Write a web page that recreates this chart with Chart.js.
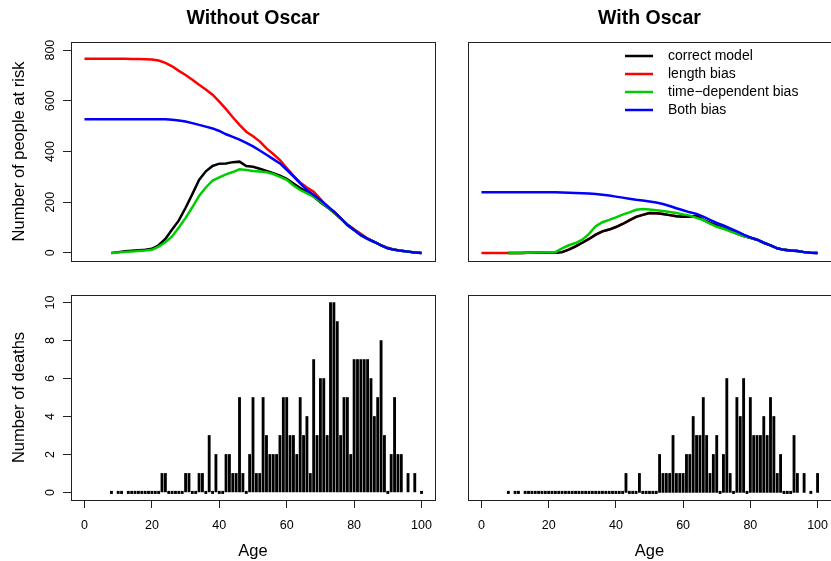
<!DOCTYPE html>
<html>
<head>
<meta charset="utf-8">
<title>People at risk and deaths by age</title>
<script src="https://cdn.jsdelivr.net/npm/chart.js@4.4.1/dist/chart.umd.min.js"></script>
<style>
  html, body { margin: 0; padding: 0; background: #fff; }
  #wrap { position: relative; width: 831px; height: 561px; overflow: hidden; }
  #wrap canvas { position: absolute; left: 0; top: 0; }
</style>
</head>
<body>
<div id="wrap">
  <canvas id="riskWithout" width="831" height="561"></canvas>
  <canvas id="riskWith" width="831" height="561"></canvas>
  <canvas id="deathsWithoutChart" width="831" height="561"></canvas>
  <canvas id="deathsWithChart" width="831" height="561"></canvas>
</div>
<script>
// ages used for the number-at-risk curves
const riskAges = [0, 2, 4, 6, 8, 10, 12, 14, 16, 18, 20, 22, 24, 26, 28, 30, 32, 34, 36, 38, 40,
  42, 44, 46, 48, 50, 52, 54, 56, 58, 60, 62, 64, 66, 68, 70, 72, 74, 76, 78, 80,
  82, 84, 86, 88, 90, 92, 94, 96, 98, 100];

// Without Oscar
const correctWithout = [null, null, null, null, 0, 3, 6, 8, 10, 12, 16, 30, 55, 92, 128, 178, 232, 288, 322, 343, 352,
  353, 358, 360, 343, 340, 332, 323, 314, 305, 292, 274, 256, 240, 222, 200, 180, 163, 137, 110, 90,
  70, 55, 43, 30, 18, 12, 8, 5, 2, 0];
const lengthWithout = [766, 766, 766, 766, 766, 766, 766, 765, 765, 764, 763, 759, 750, 736, 718, 702, 683, 663, 645, 624, 597,
  567, 535, 505, 478, 460, 440, 412, 390, 366, 335, 305, 278, 258, 241, 212, 182, 158, 136, 113, 93,
  75, 57, 43, 30, 20, 13, 8, 5, 2, 0];
const timeWithout = [null, null, null, null, 0, 2, 4, 5, 7, 9, 12, 25, 42, 65, 100, 138, 180, 225, 258, 285, 298,
  310, 319, 330, 327, 323, 321, 318, 311, 300, 288, 266, 248, 235, 222, 203, 182, 160, 135, 110, 90,
  70, 55, 43, 30, 18, 12, 8, 5, 2, 0];
const bothWithout = [527, 527, 527, 527, 527, 527, 527, 527, 527, 527, 527, 527, 527, 525, 522, 518, 512, 505, 498, 491, 481,
  468, 458, 447, 434, 420, 404, 387, 370, 353, 328, 302, 274, 248, 228, 209, 186, 163, 137, 110, 90,
  70, 55, 43, 30, 18, 12, 8, 5, 2, 0];

// With Oscar
const correctWith = [null, null, null, null, 0, 0, 0, 1, 1, 1, 1, 1, 3, 13, 26, 40, 55, 72, 85, 92, 102,
  114, 128, 142, 150, 157, 156, 153, 149, 145, 143, 143, 146, 130, 118, 108, 97, 88, 76, 66, 60,
  52, 40, 30, 18, 12, 9, 7, 3, 1, 0];
const lengthWith = [0, 0, 0, 0, 0, 0, 0, 1, 1, 1, 1, 1, 3, 13, 26, 40, 55, 72, 85, 92, 102,
  114, 128, 142, 150, 157, 156, 153, 149, 145, 143, 143, 146, 130, 118, 108, 97, 88, 76, 66, 60,
  52, 40, 30, 18, 12, 9, 7, 3, 1, 0];
const timeWith = [null, null, null, null, 0, 0, 1, 1, 2, 2, 3, 3, 18, 30, 39, 52, 75, 105, 121, 130, 140,
  151, 160, 170, 173, 171, 168, 165, 161, 157, 152, 147, 138, 130, 115, 103, 95, 85, 76, 66, 60,
  52, 40, 30, 18, 12, 9, 7, 3, 1, 0];
const bothWith = [239, 239, 239, 239, 239, 239, 239, 239, 239, 239, 239, 239, 238, 237, 236, 235, 234, 232, 229, 226, 222,
  218, 214, 210, 207, 203, 199, 193, 185, 176, 168, 160, 154, 143, 130, 118, 108, 97, 85, 72, 61,
  52, 40, 30, 18, 12, 9, 7, 3, 1, 0];

// deaths per age (ages 9, 12, 95, 97 and 99 have no record)
const deathAges = [8, 10, 11, 13, 14, 15, 16, 17, 18, 19, 20, 21, 22, 23, 24, 25, 26, 27, 28, 29,
  30, 31, 32, 33, 34, 35, 36, 37, 38, 39, 40, 41, 42, 43, 44, 45, 46, 47, 48, 49,
  50, 51, 52, 53, 54, 55, 56, 57, 58, 59, 60, 61, 62, 63, 64, 65, 66, 67, 68, 69,
  70, 71, 72, 73, 74, 75, 76, 77, 78, 79, 80, 81, 82, 83, 84, 85, 86, 87, 88, 89,
  90, 91, 92, 93, 94, 96, 98, 100];
const deathsWithout = [0, 0, 0, 0, 0, 0, 0, 0, 0, 0, 0, 0, 0, 1, 1, 0, 0, 0, 0, 0,
  1, 1, 0, 0, 1, 1, 0, 3, 0, 2, 0, 0, 2, 2, 1, 1, 5, 1, 0, 2,
  5, 1, 1, 5, 3, 2, 2, 2, 3, 5, 5, 3, 3, 2, 5, 3, 4, 1, 7, 3,
  6, 6, 3, 10, 10, 9, 3, 5, 5, 2, 7, 7, 7, 7, 7, 6, 4, 5, 8, 3,
  0, 2, 5, 2, 2, 1, 1, 0];
const deathsWith = [0, 0, 0, 0, 0, 0, 0, 0, 0, 0, 0, 0, 0, 0, 0, 0, 0, 0, 0, 0,
  0, 0, 0, 0, 0, 0, 0, 0, 0, 0, 0, 0, 0, 1, 0, 0, 0, 1, 0, 0,
  0, 0, 0, 2, 1, 1, 1, 3, 1, 1, 1, 2, 2, 4, 3, 3, 5, 3, 1, 2,
  3, 0, 2, 6, 1, 0, 5, 4, 6, 0, 5, 3, 3, 3, 4, 3, 5, 4, 1, 2,
  0, 0, 0, 3, 1, 1, 0, 1];

const xTicks = [0, 20, 40, 60, 80, 100];
const riskTicks = [0, 200, 400, 600, 800];
const deathTicks = [0, 2, 4, 6, 8, 10];

const seriesNames = ['correct model', 'length bias', 'time\u2212dependent bias', 'Both bias'];
const seriesColors = ['#000000', '#ff0000', '#00cd00', '#0000ff'];
const seriesOrder = [3, 4, 2, 1]; // blue on top, red underneath

const FONT = '"Liberation Sans", Arial, Helvetica, sans-serif';
Chart.defaults.font.family = FONT;
Chart.defaults.color = '#000';

// box, titles, tick labels and legend in the R look
const framePlugin = {
  id: 'rframe',
  afterDraw(chart, args, o) {
    const ctx = chart.ctx;
    const a = chart.chartArea;
    ctx.save();
    ctx.strokeStyle = '#222';
    ctx.lineWidth = 1;
    ctx.strokeRect(Math.round(a.left) + 0.5, Math.round(a.top) + 0.5,
      Math.round(a.right - a.left), Math.round(a.bottom - a.top));
    ctx.fillStyle = '#000';
    const cx = (a.left + a.right) / 2;

    if (o.title) {
      ctx.font = 'bold 19.5px ' + FONT;
      ctx.textAlign = 'center';
      ctx.textBaseline = 'alphabetic';
      ctx.fillText(o.title, cx, 24);
    }
    if (o.yTitle) {
      ctx.save();
      ctx.font = '16.5px ' + FONT;
      ctx.translate(24, (a.top + a.bottom) / 2);
      ctx.rotate(-Math.PI / 2);
      ctx.textAlign = 'center';
      ctx.textBaseline = 'alphabetic';
      ctx.fillText(o.yTitle, 0, 0);
      ctx.restore();
    }
    if (o.yTicks) {
      const ys = chart.scales.y;
      ctx.font = '12.5px ' + FONT;
      o.yTicks.forEach(v => {
        ctx.save();
        ctx.translate(54, ys.getPixelForValue(v));
        ctx.rotate(-Math.PI / 2);
        ctx.textAlign = 'center';
        ctx.textBaseline = 'alphabetic';
        ctx.fillText(String(v), 0, 0);
        ctx.restore();
      });
    }
    if (o.xTicks) {
      const xs = chart.scales.x;
      ctx.font = '12.5px ' + FONT;
      ctx.textAlign = 'center';
      ctx.textBaseline = 'alphabetic';
      o.xTicks.forEach(v => {
        ctx.fillText(String(v), xs.getPixelForValue(v), 528.5);
      });
    }
    if (o.xTitle) {
      ctx.font = '16.5px ' + FONT;
      ctx.textAlign = 'center';
      ctx.textBaseline = 'alphabetic';
      ctx.fillText(o.xTitle, cx, 556);
    }
    if (o.legend) {
      ctx.font = '14px ' + FONT;
      ctx.textAlign = 'left';
      ctx.textBaseline = 'middle';
      seriesNames.forEach((name, i) => {
        const y = 56 + i * 18;
        ctx.strokeStyle = seriesColors[i];
        ctx.lineWidth = 2.5;
        ctx.beginPath();
        ctx.moveTo(625, y);
        ctx.lineTo(653, y);
        ctx.stroke();
        ctx.fillStyle = '#000';
        ctx.fillText(name, 668, y);
      });
    }
    ctx.restore();
  }
};

function toPoints(xs, ys) {
  return xs.map((x, i) => ({ x: x, y: ys[i] })).filter(p => p.y !== null);
}

function fixTicks(values) {
  return s => { s.ticks = values.map(v => ({ value: v })); };
}

function zeroFit(s) {
  if (s.isHorizontal()) s.height = 0; else s.width = 0;
  s.paddingLeft = 0; s.paddingRight = 0; s.paddingTop = 0; s.paddingBottom = 0;
}

function makePanel(id, type, box, datasets, cfg) {
  new Chart(document.getElementById(id), {
    type: type,
    data: { datasets: datasets },
    plugins: [framePlugin],
    options: {
      responsive: false,
      animation: false,
      devicePixelRatio: 1,
      events: [],
      layout: {
        autoPadding: false,
        padding: { left: box[0], top: box[1], right: 831 - box[2], bottom: 561 - box[3] }
      },
      scales: {
        x: {
          type: 'linear',
          min: -4, max: 104,
          offset: false,
          display: cfg.xAxis,
          afterBuildTicks: fixTicks(xTicks),
          afterFit: zeroFit,
          grid: { offset: false, drawOnChartArea: false, drawTicks: true, tickLength: 8, color: '#222', lineWidth: 1 },
          border: { display: false },
          ticks: { display: false }
        },
        y: {
          type: 'linear',
          min: cfg.yMin, max: cfg.yMax,
          display: cfg.yAxis,
          afterBuildTicks: fixTicks(cfg.yTicks),
          afterFit: zeroFit,
          grid: { drawOnChartArea: false, drawTicks: true, tickLength: 8, color: '#222', lineWidth: 1 },
          border: { display: false },
          ticks: { display: false }
        }
      },
      plugins: {
        legend: { display: false },
        tooltip: { enabled: false },
        rframe: {
          title: cfg.title,
          yTitle: cfg.yAxis ? cfg.yTitle : null,
          yTicks: cfg.yAxis ? cfg.yTicks : null,
          xTicks: cfg.xAxis ? xTicks : null,
          xTitle: cfg.xAxis ? 'Age' : null,
          legend: !!cfg.legend
        }
      }
    }
  });
}

function riskSets(series) {
  return series.map((vals, i) => ({
    label: seriesNames[i],
    data: toPoints(riskAges, vals),
    borderColor: seriesColors[i],
    borderWidth: 2.5,
    pointRadius: 0,
    tension: 0,
    fill: false,
    order: seriesOrder[i]
  }));
}

function deathSet(vals) {
  return [{
    label: 'Number of deaths',
    data: toPoints(deathAges, vals),
    backgroundColor: '#000',
    borderWidth: 0,
    barThickness: 2.2,
    minBarLength: 2.4
  }];
}

makePanel('riskWithout', 'line', [71, 42, 435, 261],
  riskSets([correctWithout, lengthWithout, timeWithout, bothWithout]),
  { xAxis: false, yAxis: true, yMin: -32, yMax: 832, yTicks: riskTicks,
    title: 'Without Oscar', yTitle: 'Number of people at risk' });

makePanel('riskWith', 'line', [468, 42, 832, 261],
  riskSets([correctWith, lengthWith, timeWith, bothWith]),
  { xAxis: false, yAxis: false, yMin: -32, yMax: 832, yTicks: riskTicks,
    title: 'With Oscar', legend: true });

makePanel('deathsWithoutChart', 'bar', [71, 295, 435, 500],
  deathSet(deathsWithout),
  { xAxis: true, yAxis: true, yMin: -0.4, yMax: 10.4, yTicks: deathTicks,
    yTitle: 'Number of deaths' });

makePanel('deathsWithChart', 'bar', [468, 295, 832, 500],
  deathSet(deathsWith),
  { xAxis: true, yAxis: false, yMin: -0.4, yMax: 10.4, yTicks: deathTicks });
</script>
</body>
</html>
